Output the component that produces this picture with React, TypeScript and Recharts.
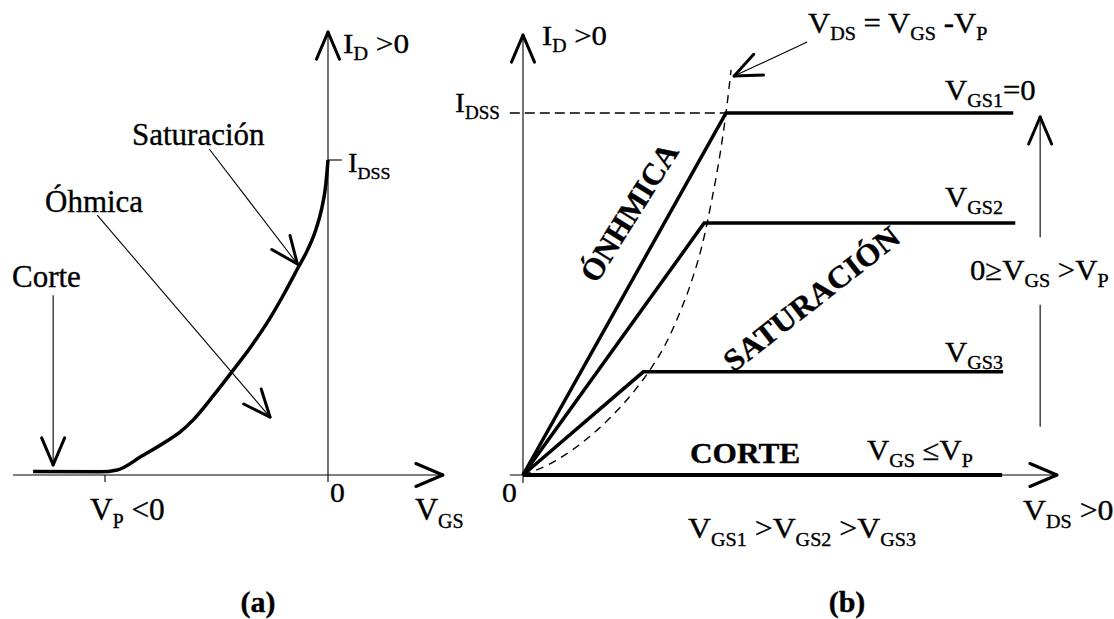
import React from 'react';
import { LineChart, Line, XAxis, YAxis, ReferenceLine } from 'recharts';

// ---- (a) transfer characteristic: V_GS (V) vs I_D (mA)
const VP = -4;
const IDSS = 10;
const vgsCurve = [-5.29, -4.09, -3.78, -3.34, -2.89, -2.65, -2.44, -2.06, -1.70, -1.36, -1.04, -0.77, -0.54, -0.36, -0.22, -0.11, -0.04, 0];
const idCurve = [0.11, 0.1, 0.16, 0.6, 1.08, 1.37, 1.71, 2.51, 3.33, 4.13, 4.98, 5.81, 6.57, 7.17, 7.78, 8.48, 9.21, 10];

// ---- (b) output characteristic: V_DS (V) vs I_D (mA)
const curveNames = ['VGS1', 'VGS2', 'VGS3'];
const vdsKnee = [4.0, 3.57, 2.37];
const idSat = [10, 6.96, 2.85];
const vdsEnd = [9.66, 9.7, 9.46];
const cutoffEnd = 9.44;
// V_DS = V_GS - V_P locus (dashed)
const locusVds = [0, 0.49, 0.97, 1.46, 1.87, 2.21, 2.5, 2.8, 3.07, 3.33, 3.53, 3.72, 3.88, 4.0, 4.1];
const locusId = [0, 0.28, 0.69, 1.24, 1.8, 2.35, 2.9, 3.59, 4.42, 5.39, 6.35, 7.6, 8.84, 10.0, 11.19];

// axis extents / annotation pointers, in data units
type Pt = { x: number; y: number };
const aAxisX: Pt[] = [{ x: -5.65, y: 0 }, { x: 2.06, y: 0 }];
const aAxisY: Pt[] = [{ x: 0, y: -0.22 }, { x: 0, y: 14.06 }];
const aPointers: Pt[][] = [
    [{ x: -2.13, y: 10.35 }, { x: -0.55, y: 6.7 }], // Saturación
    [{ x: -4.14, y: 8.25 }, { x: -1.04, y: 1.84 }], // Óhmica
    [{ x: -4.93, y: 5.71 }, { x: -4.93, y: 0.32 }], // Corte
];
const bAxisX: Pt[] = [{ x: -0.26, y: 0 }, { x: 10.52, y: 0 }];
const bAxisY: Pt[] = [{ x: 0, y: -0.22 }, { x: 0, y: 12.15 }];
const bLocusPointer: Pt[] = [{ x: 5.6, y: 11.96 }, { x: 4.16, y: 11.02 }];
const bRangeUpper: Pt[] = [{ x: 10.19, y: 6.57 }, { x: 10.19, y: 9.89 }];
const bRangeLower: Pt[] = [{ x: 10.19, y: 1.33 }, { x: 10.19, y: 4.7 }];

const transferData = vgsCurve.map((v, i) => ({ v, i: idCurve[i] }));
const outputData = curveNames.map((n, k) => ({
    name: n,
    data: [
        { v: 0, i: 0 },
        { v: vdsKnee[k], i: idSat[k] },
        { v: vdsEnd[k], i: idSat[k] },
    ],
}));
const cutoffData = [{ v: 0, i: 0 }, { v: cutoffEnd, i: 0 }];
const locusData = locusVds.map((v, i) => ({ v, i: locusId[i] }));

// layout of the two plots (pixels per unit and origin inside each chart box)
const A = { left: 0, top: 0, w: 470, h: 500, ox: 328, oy: 475, sx: 55.75, sy: 31.5 };
const B = { left: 470, top: 0, w: 644, h: 500, ox: 53, oy: 475, sx: 50.75, sy: 36.2 };

const domX = (c: typeof A) => [-c.ox / c.sx, (c.w - c.ox) / c.sx];
const domY = (c: typeof A) => [-(c.h - c.oy) / c.sy, c.oy / c.sy];

// open "V" arrow head at the end of a segment
const head = (seg: Pt[], c: typeof A, len = 27, half = 11.5): Pt[][] => {
    const [a, b] = seg;
    const dx = (b.x - a.x) * c.sx;
    const dy = -(b.y - a.y) * c.sy;
    const d = Math.hypot(dx, dy);
    const ux = dx / d, uy = dy / d;
    const wing = (s: number): Pt => ({
        x: b.x + (-ux * len + s * -uy * half) / c.sx,
        y: b.y - (-uy * len + s * ux * half) / c.sy,
    });
    return [[b, wing(1)], [b, wing(-1)]];
};

const thin = { stroke: '#000', strokeWidth: 1.1 };
const bold = { stroke: '#000', strokeWidth: 3, strokeLinecap: 'round' as const };

const Seg = (seg: Pt[], key: string, style: any) => (
    <ReferenceLine key={key} segment={seg as any} {...style} ifOverflow="visible" />
);

const Arrow = (seg: Pt[], key: string, c: typeof A, lineStyle = thin) => [
    Seg(seg, key, lineStyle),
    ...head(seg, c).map((s, j) => Seg(s, `${key}-h${j}`, bold)),
];

// ---- text helpers
type Part = string | [string];
const FONT = "'Liberation Serif', 'Times New Roman', serif";

type Lbl = { x: number; y: number; size: number; parts: Part[]; weight?: number; anchor?: string; rotate?: number; sx?: number };

const Tx = ({ x, y, size, parts, weight = 400, anchor = 'start', rotate = 0, sx = 1.06 }: Lbl) => {
    const sub = Math.round(size * 0.64);
    const shift = Math.round(size * 0.25);
    let down = false;
    return (
        <text x={0} y={0} fontSize={size} fontFamily={FONT} fontWeight={weight} textAnchor={anchor}
            stroke="#000" strokeWidth={0.35} style={{ whiteSpace: 'pre' }}
            transform={`translate(${x} ${y}) rotate(${rotate}) scale(${sx} 1)`}>
            {parts.map((p, i) => {
                if (typeof p === 'string') {
                    const dy = down ? -shift : 0;
                    down = false;
                    return <tspan key={i} dy={dy}>{p}</tspan>;
                }
                const dy = down ? 0 : shift;
                down = true;
                return <tspan key={i} dy={dy} fontSize={sub}>{p[0]}</tspan>;
            })}
        </text>
    );
};

const labels: Lbl[] = [
    // (a)
    { x: 343, y: 53, size: 28, parts: ['I', ['D'], ' >0'], sx: 1.12 },
    { x: 348, y: 172, size: 27, parts: ['I', ['DSS']] },
    { x: 132, y: 145, size: 31, parts: ['Saturación'], sx: 1 },
    { x: 45, y: 212, size: 31, parts: ['Óhmica'], sx: 1 },
    { x: 12, y: 287, size: 31, parts: ['Corte'], sx: 1 },
    { x: 90, y: 520, size: 32, parts: ['V', ['P'], ' <0'], sx: 0.98 },
    { x: 330, y: 502, size: 28, parts: ['0'] },
    { x: 415, y: 520, size: 32, parts: ['V', ['GS']], sx: 1 },
    { x: 258, y: 612, size: 30, parts: ['(a)'], weight: 700, anchor: 'middle', sx: 1 },
    // (b)
    { x: 542, y: 45, size: 28, parts: ['I', ['D'], ' >0'], sx: 1.1 },
    { x: 455, y: 112, size: 28, parts: ['I', ['DSS']] },
    { x: 808, y: 33, size: 29, parts: ['V', ['DS'], ' = V', ['GS'], ' -V', ['P']] },
    { x: 945, y: 100, size: 29, parts: ['V', ['GS1'], '=0'] },
    { x: 945, y: 207, size: 29, parts: ['V', ['GS2']] },
    { x: 945, y: 362, size: 29, parts: ['V', ['GS3']] },
    { x: 970, y: 280, size: 29, parts: ['0≥V', ['GS'], ' >V', ['P']] },
    { x: 867, y: 460, size: 29, parts: ['V', ['GS'], ' ≤V', ['P']] },
    { x: 690, y: 463, size: 29, parts: ['CORTE'], weight: 700, sx: 1.08 },
    { x: 502, y: 502, size: 28, parts: ['0'] },
    { x: 1023, y: 520, size: 30, parts: ['V', ['DS'], ' >0'] },
    { x: 688, y: 538, size: 30, parts: ['V', ['GS1'], ' >V', ['GS2'], ' >V', ['GS3']] },
    { x: 847, y: 612, size: 30, parts: ['(b)'], weight: 700, anchor: 'middle', sx: 1 },
    { x: 638, y: 218, size: 31, parts: ['ÓNHMICA'], weight: 700, anchor: 'middle', rotate: -58, sx: 1 },
    { x: 818, y: 307, size: 31, parts: ['SATURACIÓN'], weight: 700, anchor: 'middle', rotate: -38, sx: 1.04 },
];

const noMargin = { top: 0, right: 0, bottom: 0, left: 0 };

export default function App() {
    return (
        <div style={{ position: 'absolute', left: 0, top: 0, width: 1114, height: 619, background: '#fff' }}>
            <div style={{ position: 'absolute', left: A.left, top: A.top }}>
                <LineChart width={A.w} height={A.h} margin={noMargin}>
                    <XAxis type="number" dataKey="v" domain={domX(A)} hide allowDataOverflow />
                    <YAxis type="number" dataKey="i" domain={domY(A)} hide allowDataOverflow />
                    {Arrow(aAxisX, 'ax', A)}
                    {Arrow(aAxisY, 'ay', A)}
                    {Seg([{ x: VP, y: 0 }, { x: VP, y: -0.22 }], 'vp', thin)}
                    {Seg([{ x: 0, y: IDSS }, { x: 0.25, y: IDSS }], 'idss', thin)}
                    {aPointers.flatMap((p, k) => Arrow(p, `ap${k}`, A))}
                    <Line data={transferData} dataKey="i" type="monotone" stroke="#000" strokeWidth={3.5}
                        dot={false} activeDot={false} isAnimationActive={false} />
                </LineChart>
            </div>
            <div style={{ position: 'absolute', left: B.left, top: B.top }}>
                <LineChart width={B.w} height={B.h} margin={noMargin}>
                    <XAxis type="number" dataKey="v" domain={domX(B)} hide allowDataOverflow />
                    <YAxis type="number" dataKey="i" domain={domY(B)} hide allowDataOverflow />
                    {Arrow(bAxisX, 'bx', B)}
                    {Arrow(bAxisY, 'by', B)}
                    {Seg([{ x: -0.26, y: IDSS }, { x: vdsKnee[0], y: IDSS }], 'bidss', { stroke: '#000', strokeWidth: 1.3, strokeDasharray: '10 5' })}
                    {Arrow(bLocusPointer, 'bl', B)}
                    {Arrow(bRangeUpper, 'br', B)}
                    {Seg(bRangeLower, 'brl', thin)}
                    <Line data={locusData} dataKey="i" type="monotone" stroke="#000" strokeWidth={1.4}
                        strokeDasharray="8 6" dot={false} activeDot={false} isAnimationActive={false} />
                    {outputData.map(s => (
                        <Line key={s.name} data={s.data} dataKey="i" type="linear" stroke="#000" strokeWidth={3.5}
                            dot={false} activeDot={false} isAnimationActive={false} />
                    ))}
                    <Line data={cutoffData} dataKey="i" type="linear" stroke="#000" strokeWidth={4}
                        dot={false} activeDot={false} isAnimationActive={false} />
                </LineChart>
            </div>
            <svg width={1114} height={619} style={{ position: 'absolute', left: 0, top: 0, pointerEvents: 'none' }}>
                {labels.map((l, k) => <Tx key={k} {...l} />)}
            </svg>
        </div>
    );
}
